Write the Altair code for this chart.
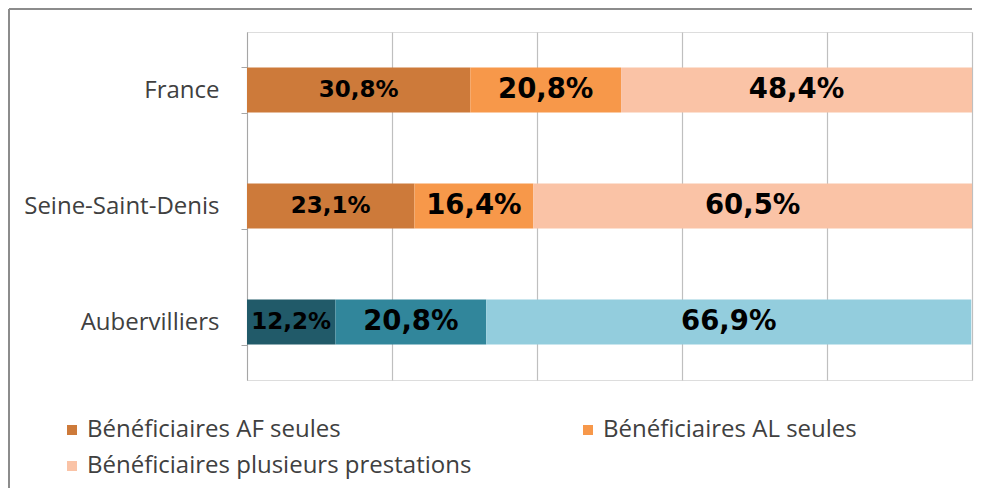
import altair as alt
import pandas as pd

regions = ["France", "Seine-Saint-Denis", "Aubervilliers"]
categories = ["Bénéficiaires AF seules", "Bénéficiaires AL seules", "Bénéficiaires plusieurs prestations"]
af_values = [30.8, 23.1, 12.2]
al_values = [20.8, 16.4, 20.8]
plus_values = [48.4, 60.5, 66.9]

orange_colors = ["#CD7A3A", "#F7984A", "#FAC3A6"]
teal_colors = ["#215A69", "#31869B", "#93CDDD"]

rows = []
for i, r in enumerate(regions):
    for j, (c, vals) in enumerate(zip(categories, [af_values, al_values, plus_values])):
        key = c if r != "Aubervilliers" else "Aub " + c
        rows.append({"region": r, "category": c, "order": j, "value": vals[i], "key": key})
df = pd.DataFrame(rows)

domain = categories + ["Aub " + c for c in categories]
colors = orange_colors + teal_colors
# legend entries laid out column-major in 2 rows
legend_values = [categories[0], categories[2], categories[1]]

FONT = "Open Sans"
LABEL_FONT = "DejaVu Sans"

base = alt.Chart(df).transform_stack(
    stack="value", as_=["x0", "x1"], groupby=["region"], sort=[alt.SortField("order")]
).transform_calculate(
    mid="(datum.x0 + datum.x1) / 2",
    label="replace(format(datum.value, '.1f'), '.', ',') + '%'",
)

y_enc = alt.Y(
    "region:N",
    sort=regions,
    title=None,
    scale=alt.Scale(paddingInner=0.61, paddingOuter=0.305),
    axis=alt.Axis(
        tickBand="extent",
        grid=False,
        domainColor="#A6A6A6",
        tickColor="#A6A6A6",
        tickSize=6,
        labelFont=FONT,
        labelFontSize=24,
        labelColor="#404040",
        labelPadding=22,
        labelLimit=400,
    ),
)

x_scale = alt.Scale(domain=[0, 100], nice=False, zero=True)

bars = base.mark_bar().encode(
    y=y_enc,
    x=alt.X(
        "x0:Q",
        scale=x_scale,
        title=None,
        axis=alt.Axis(
            values=[0, 20, 40, 60, 80, 100],
            labels=False,
            ticks=False,
            domain=False,
            grid=True,
            gridColor="#BFBFBF",
            gridWidth=1.2,
        ),
    ),
    x2="x1:Q",
    color=alt.Color(
        "key:N",
        scale=alt.Scale(domain=domain, range=colors),
        legend=alt.Legend(
            title=None,
            values=legend_values,
            orient="none",
            legendX=-187,
            legendY=386,
            columns=2,
            columnPadding=104,
            rowPadding=12,
            symbolType="square",
            symbolSize=100,
            symbolStrokeWidth=0,
            labelFont=FONT,
            labelFontSize=24,
            labelColor="#404040",
            labelOffset=3,
            labelLimit=600,
        ),
    ),
)

texts = base.mark_text(font=LABEL_FONT, fontWeight="bold", color="#000000").encode(
    y=alt.Y("region:N", sort=regions),
    x=alt.X("mid:Q", scale=x_scale),
    text="label:N",
    size=alt.condition(alt.datum.order == 0, alt.value(23), alt.value(27.5)),
)

frame_df = pd.DataFrame({"a": [0]})
frame_left = alt.Chart(frame_df).mark_rule(color="#8C8C8C", strokeWidth=2).encode(
    x=alt.value(-238), y=alt.value(-23), y2=alt.value(490)
)
frame_top = alt.Chart(frame_df).mark_rule(color="#8C8C8C", strokeWidth=2).encode(
    x=alt.value(-238), x2=alt.value(725), y=alt.value(-23)
)

chart = alt.layer(frame_left, frame_top, bars, texts).properties(
    width=725,
    height=348,
    autosize=alt.AutoSizeParams(type="none"),
    padding={"left": 239, "top": 24, "right": 4, "bottom": 108},
).configure_view(stroke=None).configure(background="white")

chart.save("out.html", embed_options={"renderer": "svg", "actions": False})
